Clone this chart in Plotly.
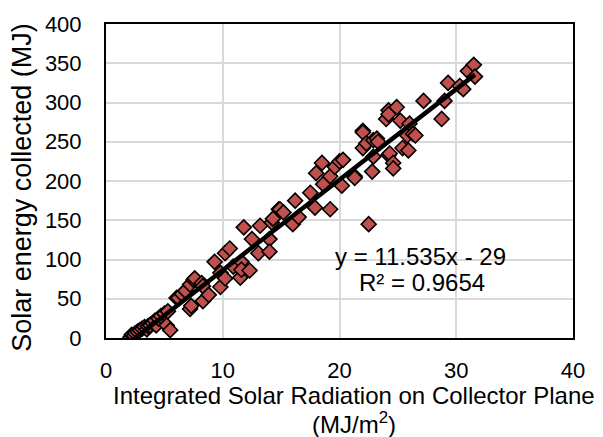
import plotly.graph_objects as go

# Integrated solar radiation on collector plane (MJ/m2)
radiation = [
    2.1, 2.2, 2.4, 2.5, 2.7, 2.9, 3.1, 3.3, 3.5, 3.6, 3.8, 3.8, 4.0, 4.2, 4.3, 4.5, 4.7, 5.0, 5.2, 5.3, 5.5,
    6.05, 6.2, 6.5, 6.8, 7.2, 7.2, 7.3, 7.5, 7.6, 8.2, 8.3, 8.3, 8.8, 9.3, 9.8, 9.8, 10.2, 10.2, 10.6,
    10.9, 11.5, 11.6, 11.6, 11.8, 12.3, 12.5, 13.05, 13.2, 14.0, 14.0, 14.2, 14.3, 14.8, 14.9, 15.2,
    16.0, 16.2, 16.5, 17.5, 17.9, 18.0, 18.5, 18.6, 19.2, 19.2, 19.6, 20.0, 20.2, 20.3, 21.3, 21.3,
    22.0, 22.0, 22.0, 22.3, 22.5, 22.8, 22.9, 22.9, 23.2, 23.3, 24.0, 24.2, 24.2, 24.2, 24.3, 24.6,
    24.6, 24.9, 25.2, 25.4, 25.8, 25.9, 26.0, 26.3, 26.5, 27.2, 28.75, 29.0, 29.3, 30.3, 30.6, 31.0,
    31.5, 31.6,
]
# Solar energy collected (MJ)
energy = [
    1, 4, 3, 6, 8, 10, 12, 14, 11, 15, 17, 16, 19, 22, 16, 25, 28, 31, 16, 34, 10,
    51, 51, 56, 60, 68, 37, 41, 74, 76, 70, 66, 47, 55, 97, 83, 65, 108, 76, 114,
    91, 77, 97, 87, 141, 86, 126, 108, 143, 126, 110, 147, 152, 164, 164, 160,
    145, 175, 154, 185, 166, 210, 223, 196, 206, 164, 218, 225, 194, 227, 206, 204,
    264, 242, 262, 248, 145, 212, 252, 231, 254, 250, 279, 290, 233, 285, 235, 223,
    216, 294, 277, 242, 258, 239, 273, 260, 258, 302, 279, 302, 325, 321, 317, 340,
    348, 333,
]

slope = 11.535
intercept = -29
r_squared = 0.9654

x_ticks = [0, 10, 20, 30, 40]
y_ticks = [0, 50, 100, 150, 200, 250, 300, 350, 400]

FONT = "Liberation Sans, Arial, sans-serif"

fig = go.Figure()
fig.add_trace(go.Scatter(
    x=radiation, y=energy, mode="markers",
    marker=dict(symbol="diamond", size=11.5, color="#C0504D",
                line=dict(color="black", width=1.6)),
    showlegend=False,
))
x_min, x_max = min(radiation), max(radiation)
fig.add_trace(go.Scatter(
    x=[x_min, x_max], y=[slope * x_min + intercept, slope * x_max + intercept],
    mode="lines", line=dict(color="black", width=4.5), showlegend=False,
))

axis_common = dict(
    showgrid=True, gridcolor="#D9D9D9", gridwidth=1.5,
    showline=True, linecolor="black", linewidth=2, mirror=True,
    zeroline=False, ticks="", tickfont=dict(family=FONT, size=22, color="black"),
)
fig.update_xaxes(range=[0, 40], tickvals=x_ticks, ticklabelstandoff=12, **axis_common)
fig.update_yaxes(range=[0, 400], tickvals=y_ticks, ticklabelstandoff=18, **axis_common)

annotations = [
    dict(text="y = 11.535x - 29", x=26.98, y=104, xref="x", yref="y",
         showarrow=False, font=dict(family=FONT, size=24, color="black")),
    dict(text=f"R² = {r_squared}", x=27.05, y=71, xref="x", yref="y",
         showarrow=False, font=dict(family=FONT, size=24, color="black")),
    dict(text="Integrated Solar Radiation on Collector Plane", x=(353.5 - 106) / 467, y=-(396.7 - 338) / 320,
         xref="paper", yref="paper", showarrow=False, yanchor="middle",
         font=dict(family=FONT, size=24, color="black")),
    dict(text="(MJ/m<sup>2</sup>)", x=(354 - 106) / 467, y=-(425 - 338) / 320,
         xref="paper", yref="paper", showarrow=False, yanchor="middle",
         font=dict(family=FONT, size=24, color="black")),
    dict(text="Solar energy collected (MJ)", x=(22 - 106) / 467, y=(338 - 185) / 320,
         xref="paper", yref="paper", showarrow=False, textangle=-90,
         xanchor="center", yanchor="middle",
         font=dict(family=FONT, size=27, color="black")),
]

fig.update_layout(
    width=603, height=437,
    margin=dict(l=106, r=30, t=18, b=99),
    paper_bgcolor="white", plot_bgcolor="white",
    annotations=annotations,
    font=dict(family=FONT, color="black"),
)

fig.write_html("out.html")
